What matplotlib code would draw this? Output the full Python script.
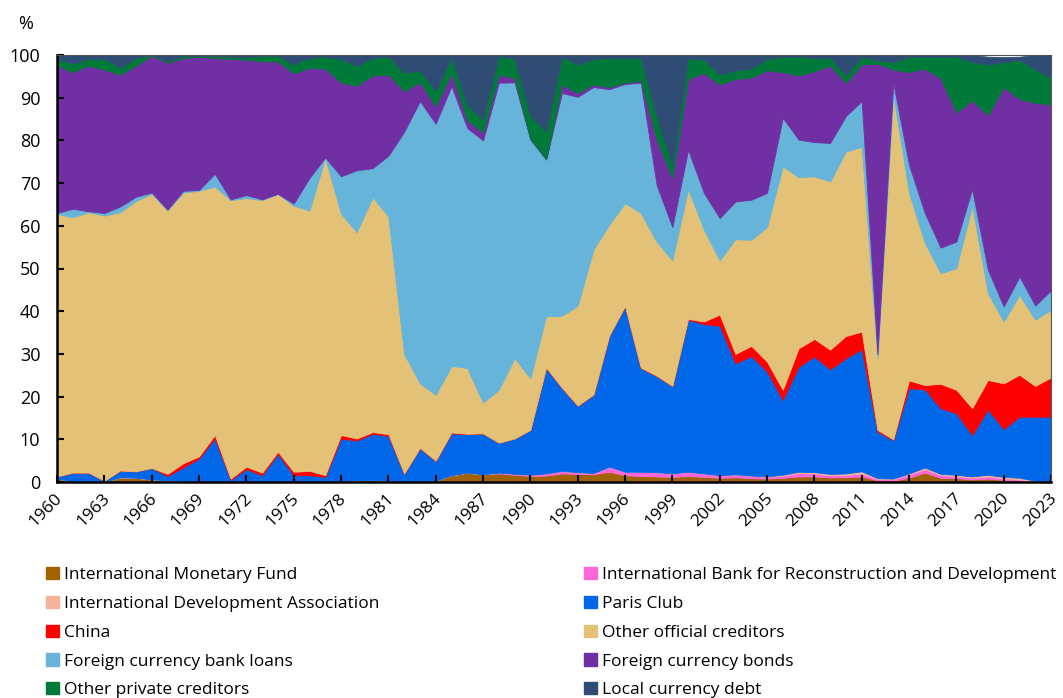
import matplotlib
matplotlib.use("Agg")
import matplotlib.pyplot as plt
import matplotlib.transforms as mtransforms
import numpy as np
from matplotlib.patches import Patch

plt.rcParams['font.family'] = ['Open Sans', 'DejaVu Sans']

years = list(range(1960, 2024))

imf = [0.8, 0.2, 0.1, 0, 1.1, 1.0, 0.6, 0.3, 0.2, 0.1,
       0, 0, 0, 0, 0, 0, 0, 0, 0.2, 0.4,
       0.5, 0.3, 0, 0, 0.3, 1.6, 2.2, 1.8, 2.0, 1.7,
       1.4, 1.5, 2.0, 1.9, 1.8, 2.4, 1.6, 1.4, 1.3, 1.2,
       1.4, 1.2, 1.0, 1.1, 0.9, 0.8, 1.0, 1.3, 1.3, 1.1,
       1.1, 1.3, 0.4, 0.3, 1.0, 2.2, 1.0, 0.9, 0.6, 0.8,
       0.5, 0.3, 0, 0]
ibrd = [0, 0, 0, 0, 0, 0, 0, 0.1, 0.1, 0,
        0, 0, 0, 0, 0, 0, 0, 0, 0, 0,
        0, 0, 0, 0, 0, 0, 0, 0, 0.2, 0.2,
        0.3, 0.5, 0.6, 0.4, 0.3, 1.2, 0.8, 1.0, 1.0, 0.8,
        1.0, 0.8, 0.6, 0.7, 0.6, 0.4, 0.5, 0.8, 0.7, 0.5,
        0.5, 0.7, 0.3, 0.3, 0.8, 0.8, 0.6, 0.5, 0.4, 0.5,
        0.4, 0.3, 0.1, 0]
ida = [0] * 45 + [0.1, 0.2, 0.3, 0.3, 0.3,
                  0.4, 0.5, 0.2, 0.2, 0.2, 0.4, 0.3, 0.3, 0.3, 0.4,
                  0.3, 0.4, 0.2, 0]
paris = [0.5, 2.0, 2.1, 0.3, 1.6, 1.5, 2.7, 1.0, 3.1, 5.4,
         10.2, 0.5, 3.0, 1.6, 6.6, 1.6, 1.6, 1.2, 10.0, 9.3,
         10.8, 10.5, 1.9, 7.9, 4.6, 9.8, 9.0, 9.6, 7.0, 8.3,
         10.5, 24.7, 19.4, 15.5, 18.3, 30.6, 38.7, 24.3, 22.5, 20.4,
         35.6, 35.0, 35.0, 26.0, 28.0, 24.6, 17.5, 24.6, 27.1, 24.5,
         27.0, 28.6, 10.9, 9.0, 20.0, 18.3, 15.4, 14.4, 9.7, 15.3,
         11.2, 14.3, 15.0, 15.3]
china = [0, 0, 0, 0, 0, 0, 0, 0.5, 1.0, 0.5,
         0.8, 0.3, 0.6, 0.6, 0.5, 0.8, 1.0, 0.4, 0.8, 0.5,
         0.4, 0.4, 0.1, 0.1, 0.1, 0.2, 0.1, 0, 0, 0,
         0, 0.1, 0.1, 0.1, 0.1, 0.1, 0.1, 0.1, 0.1, 0.1,
         0.2, 0.6, 2.6, 2.2, 2.4, 2.3, 2.4, 4.3, 4.1, 4.6,
         5.2, 4.1, 0.4, 0.2, 1.8, 1.0, 5.7, 5.5, 6.3, 6.9,
         10.7, 9.8, 7.2, 9.2]
other_official = [61.5, 59.8, 61.0, 62.1, 60.5, 63.3, 64.2, 61.7, 63.4, 62.2,
                  58.2, 65.2, 62.9, 63.8, 60.4, 62.3, 61.0, 74.3, 51.8, 48.3,
                  55.0, 51.0, 28.0, 15.1, 15.4, 15.6, 15.4, 7.2, 12.4, 18.8,
                  12.1, 12.0, 16.8, 23.4, 33.9, 26.0, 24.1, 36.2, 31.4, 29.4,
                  30.4, 21.5, 12.7, 26.9, 24.8, 31.5, 52.3, 40.1, 38.1, 39.4,
                  43.2, 43.3, 16.8, 80.7, 43.9, 33.3, 25.9, 28.5, 47.4, 20.3,
                  14.5, 18.7, 15.5, 15.8]
fc_bank_loans = [0.2, 2.0, 0.2, 0.6, 1.3, 1.0, 0.3, 0.2, 0.4, 0.2,
                 3.0, 0.2, 0.7, 0.2, 0.0, 0.5, 7.6, 0.1, 8.8, 14.5,
                 6.8, 14.2, 52.0, 66.1, 63.5, 65.5, 56.2, 61.4, 71.9, 64.6,
                 55.9, 36.7, 52.2, 48.9, 38.1, 31.7, 27.9, 30.5, 13.3, 7.8,
                 9.2, 8.6, 9.9, 8.8, 9.4, 8.0, 11.4, 8.8, 8.0, 9.0,
                 8.3, 10.7, 1.0, 2.8, 6.6, 7.0, 6.0, 6.2, 3.9, 5.5,
                 3.5, 4.3, 3.3, 4.6]
fc_bonds = [34.5, 32.0, 34.1, 33.6, 30.9, 30.7, 32.0, 34.4, 31.1, 31.2,
            27.1, 32.9, 31.7, 32.3, 31.0, 30.5, 25.8, 20.8, 22.0, 19.8,
            21.7, 19.0, 9.5, 4.5, 4.0, 3.1, 1.8, 1.9, 1.9, 1.0,
            0.2, 0.1, 2.0, 0.9, 0.6, 0.5, 0.3, 0.5, 10.6, 11.5,
            16.6, 28.1, 31.3, 28.7, 28.6, 28.7, 10.7, 15.0, 16.6, 18.1,
            7.8, 8.6, 68.0, 3.1, 21.7, 33.8, 39.7, 30.3, 20.8, 36.2,
            51.4, 41.6, 47.5, 43.5]
other_private = [1.5, 2.0, 1.6, 2.5, 1.6, 1.8, 0.2, 0.4, 0.5, 0.2,
                 0.5, 0.5, 0.6, 1.3, 1.3, 2.1, 2.3, 2.8, 5.4, 4.6,
                 4.1, 4.2, 4.3, 2.7, 3.6, 3.8, 3.5, 3.0, 4.4, 4.5,
                 5.3, 6.5, 6.5, 6.7, 6.0, 6.8, 5.8, 5.3, 5.5, 2.8,
                 4.9, 3.1, 2.3, 2.0, 2.1, 2.7, 3.6, 4.4, 3.1, 1.8,
                 1.7, 1.8, 0.8, 1.7, 3.6, 2.8, 5.0, 13.0, 8.9, 11.9,
                 5.8, 9.2, 7.8, 6.2]
local_currency = [1.0, 2.0, 0.9, 0.9, 3.0, 0.7, 0.0, 1.4, 0.2, 0.2,
                  0.2, 0.4, 0.5, 0.2, 0.2, 2.2, 0.7, 0.4, 1.0, 2.6,
                  0.7, 0.4, 4.2, 3.6, 8.5, 0.4, 11.8, 15.1, 0.2, 0.9,
                  14.3, 17.9, 0.4, 2.2, 0.9, 0.7, 0.7, 0.7, 14.3, 26.0,
                  0.7, 1.1, 4.6, 3.6, 3.2, 0.9, 0.4, 0.4, 0.7, 0.7,
                  4.8, 0.4, 1.2, 1.7, 0.4, 0.4, 0.4, 0.4, 1.7, 1.8,
                  1.2, 0.7, 3.4, 5.4]

labels = ["International Monetary Fund",
          "International Bank for Reconstruction and Development",
          "International Development Association",
          "Paris Club",
          "China",
          "Other official creditors",
          "Foreign currency bank loans",
          "Foreign currency bonds",
          "Other private creditors",
          "Local currency debt"]
colors = ["#A36200", "#FF66D9", "#F4B39A", "#0068E8", "#FF0000",
          "#E3C176", "#66B4DA", "#7030A3", "#007A38", "#2E4C74"]
series = [imf, ibrd, ida, paris, china, other_official, fc_bank_loans,
          fc_bonds, other_private, local_currency]

fig = plt.figure(figsize=(10.63, 6.98), dpi=100)
ax = fig.add_axes([57 / 1063, 1 - 482 / 698, (1051 - 57) / 1063, (482 - 55) / 698])

polys = ax.stackplot(years, *series, colors=colors, labels=labels)
for p, c in zip(polys, colors):
    p.set_edgecolor(c)
    p.set_linewidth(0.6)

ax.set_xlim(1960, 2023)
ax.set_ylim(0, 100)
ax.set_yticks(range(0, 101, 10))
ax.set_xticks(range(1960, 2024, 3))
ax.tick_params(axis='both', direction='in', length=5, width=1.5, labelsize=13)
ax.tick_params(axis='x', labelsize=12.5, pad=6)
ax.tick_params(axis='y', pad=12)
offset = mtransforms.ScaledTranslation(-11 / 100, 0, fig.dpi_scale_trans)
for lbl in ax.get_xticklabels():
    lbl.set_rotation(45)
    lbl.set_ha('center')
    lbl.set_va('top')
    lbl.set_transform(lbl.get_transform() + offset)
ax.spines['left'].set_linewidth(1.8)
ax.spines['bottom'].set_linewidth(1.8)
for s in ['top', 'right']:
    ax.spines[s].set_color('#555555')
    ax.spines[s].set_linewidth(0.8)

fig.text(18 / 1063, 1 - 24 / 698, "%", fontsize=13, ha='left', va='center')

handles = [Patch(facecolor=c, edgecolor=c) for c in colors]
col1 = [0, 2, 4, 6, 8]
col2 = [1, 3, 5, 7, 9]
common = dict(frameon=False, fontsize=12.5, handlelength=0.72, handleheight=0.72,
              handletextpad=0.3, labelspacing=0.72, borderaxespad=0, borderpad=0)
fig.legend([handles[i] for i in col1], [labels[i] for i in col1],
           loc='upper left', bbox_to_anchor=(46 / 1063, 1 - 567 / 698), **common)
fig.legend([handles[i] for i in col2], [labels[i] for i in col2],
           loc='upper left', bbox_to_anchor=(584 / 1063, 1 - 567 / 698), **common)

fig.savefig("out.png", dpi=100)
